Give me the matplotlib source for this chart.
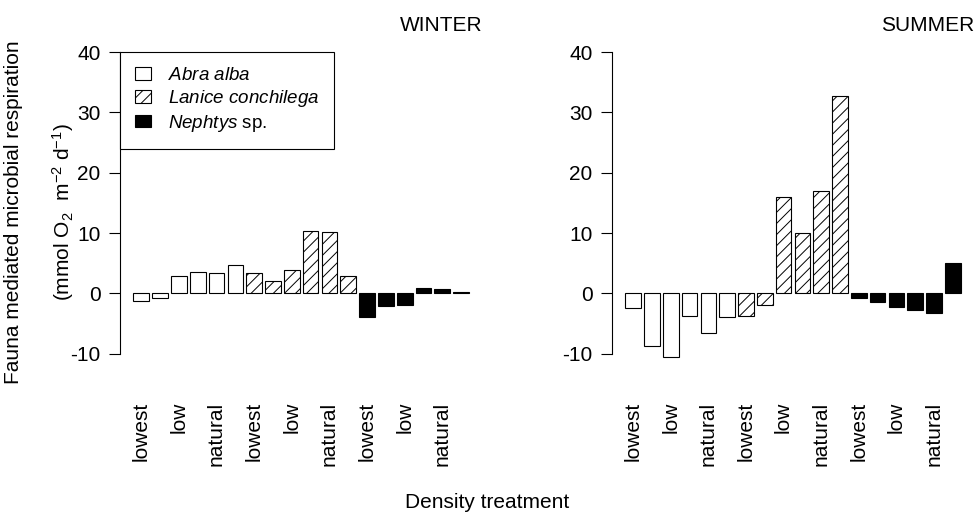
import numpy as np
import matplotlib
matplotlib.use("Agg")
import matplotlib.pyplot as plt

plt.rcParams['font.family'] = ['Liberation Sans', 'DejaVu Sans']
plt.rcParams['mathtext.fontset'] = 'custom'
plt.rcParams['mathtext.rm'] = 'Liberation Sans'
plt.rcParams['mathtext.it'] = 'Liberation Sans:italic'
plt.rcParams['axes.unicode_minus'] = False
plt.rcParams['hatch.linewidth'] = 0.7

# data
species = ['Abra alba', 'Lanice conchilega', 'Nephtys sp.']
treatments = ['lowest', 'low', 'natural']
winter = [-1.3, -0.7, 2.8, 3.6, 3.3, 4.7,
          3.4, 2.1, 3.8, 10.4, 10.2, 2.9,
          -4.0, -2.1, -1.9, 0.9, 0.75, 0.3]
summer = [-2.4, -8.8, -10.6, -3.7, -6.5, -4.0,
          -3.8, -1.9, 15.9, 10.0, 17.0, 32.8,
          -0.8, -1.4, -2.3, -2.7, -3.2, 5.0]
seasons = ['WINTER', 'SUMMER']
yticks = [-10, 0, 10, 20, 30, 40]

fs = 15
x = 0.7 + 1.2 * np.arange(18)
styles = [dict(color='white', hatch=None),
          dict(color='white', hatch='///'),
          dict(color='black', hatch=None)]

fig = plt.figure(figsize=(9.74, 5.16), dpi=100)
ax1 = fig.add_axes([120 / 974, 0.2913, (482.4 - 120) / 974, 0.6076])
ax2 = fig.add_axes([612 / 974, 0.2913, (974 - 612) / 974, 0.6076])

for ax, vals, title in zip([ax1, ax2], [winter, summer], seasons):
    handles = []
    for k in range(3):
        sl = slice(k * 6, k * 6 + 6)
        b = ax.bar(x[sl], vals[sl], width=1.0, color=styles[k]['color'],
                   hatch=styles[k]['hatch'], edgecolor='black', linewidth=0.8)
        handles.append(b)
    ax.set_xlim(-0.656, 22.456)
    ax.set_ylim(-12, 40)
    ax.set_yticks(yticks)
    ax.set_yticklabels([str(t) for t in yticks], fontsize=fs)
    ax.set_xticks(x[::2])
    ax.set_xticklabels(treatments * 3, rotation=90, fontsize=fs)
    ax.tick_params(axis='x', length=0, pad=26)
    ax.tick_params(axis='y', length=8, width=0.8, pad=6)
    for s in ['top', 'right', 'bottom']:
        ax.spines[s].set_visible(False)
    ax.spines['left'].set_bounds(-10, 40)
    ax.spines['left'].set_linewidth(0.8)
    ax.set_title(title, loc='right', fontsize=fs, pad=15)

leg = ax1.legend(handles, [r'$\it{Abra\ alba}$', r'$\it{Lanice\ conchilega}$',
                           r'$\it{Nephtys}$ sp.'],
                 loc='upper left', bbox_to_anchor=(0, 1), borderaxespad=0,
                 fontsize=13.5, fancybox=False, framealpha=1, edgecolor='black',
                 handlelength=0.85, handleheight=0.65, labelspacing=0.2,
                 borderpad=0.8, handletextpad=0.9)
leg.get_frame().set_linewidth(0.8)

fig.text(14 / 974, 0.589, 'Fauna mediated microbial respiration', rotation=90,
         ha='center', va='center', fontsize=fs)
fig.text(63 / 974, 0.589, r'(mmol O$_2$  m$^{-2}$ d$^{-1}$)', rotation=90,
         ha='center', va='center', fontsize=fs)
fig.text(0.5, 1 - 503 / 516, 'Density treatment', ha='center', va='center',
         fontsize=fs)

fig.savefig('out.png', dpi=100)
